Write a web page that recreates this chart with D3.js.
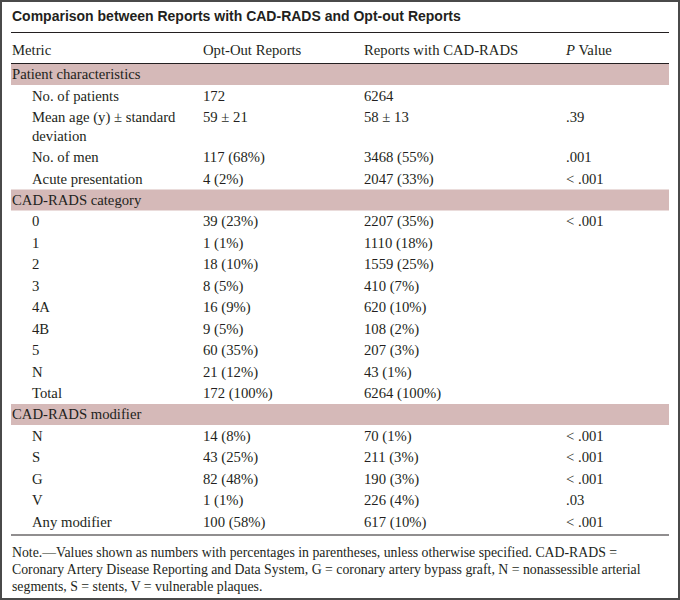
<!DOCTYPE html>
<html><head><meta charset="utf-8">
<script src="https://cdn.jsdelivr.net/npm/d3@7"></script>
<style>
html,body{margin:0;padding:0;background:#fff;}
svg{display:block;}
</style></head>
<body>
<script>
// ---- data ----
const title = "Comparison between Reports with CAD-RADS and Opt-out Reports";
const headers = ["Metric", "Opt-Out Reports", "Reports with CAD-RADS", "P Value"];
const sections = ["Patient characteristics", "CAD-RADS category", "CAD-RADS modifier"];
const metrics = [
  [["No. of patients"], ["Mean age (y) \u00b1 standard", "deviation"], ["No. of men"], ["Acute presentation"]],
  [["0"], ["1"], ["2"], ["3"], ["4A"], ["4B"], ["5"], ["N"], ["Total"]],
  [["N"], ["S"], ["G"], ["V"], ["Any modifier"]]
];
const optOut = [
  ["172", "59 \u00b1 21", "117 (68%)", "4 (2%)"],
  ["39 (23%)", "1 (1%)", "18 (10%)", "8 (5%)", "16 (9%)", "9 (5%)", "60 (35%)", "21 (12%)", "172 (100%)"],
  ["14 (8%)", "43 (25%)", "82 (48%)", "1 (1%)", "100 (58%)"]
];
const withCadrads = [
  ["6264", "58 \u00b1 13", "3468 (55%)", "2047 (33%)"],
  ["2207 (35%)", "1110 (18%)", "1559 (25%)", "410 (7%)", "620 (10%)", "108 (2%)", "207 (3%)", "43 (1%)", "6264 (100%)"],
  ["70 (1%)", "211 (3%)", "190 (3%)", "226 (4%)", "617 (10%)"]
];
const pValues = [
  ["", ".39", ".001", "< .001"],
  ["< .001", "", "", "", "", "", "", "", ""],
  ["< .001", "< .001", "< .001", ".03", "< .001"]
];
const noteLines = [
  "Note.\u2014Values shown as numbers with percentages in parentheses, unless otherwise specified. CAD-RADS =",
  "Coronary Artery Disease Reporting and Data System, G = coronary artery bypass graft, N = nonassessible arterial",
  "segments, S = stents, V = vulnerable plaques."
];

// ---- layout ----
const W = 680, H = 600;
const serif = "'Liberation Serif', 'Times New Roman', serif";
const sans = "'Liberation Sans', Arial, sans-serif";
const ink = "#231f20";
const shade = "#d5b9b8";
const fs = 14.7;

const svg = d3.select("body").append("svg").attr("width", W).attr("height", H);
svg.append("rect").attr("x", 1).attr("y", 1).attr("width", W - 2).attr("height", H - 2)
  .attr("fill", "#fff").attr("stroke", "#4a4a4a").attr("stroke-width", 2);

const x = d3.scaleOrdinal().domain([0, 1, 2, 3]).range([12, 203, 364, 566]);
const indent = 32;
const left = 11, right = 669;

svg.append("text").attr("x", 12).attr("y", 20.5).text(title)
  .attr("font-family", sans).attr("font-weight", "bold").attr("font-size", 14).attr("fill", ink);
svg.append("line").attr("x1", left).attr("x2", right).attr("y1", 32.5).attr("y2", 32.5).attr("stroke", ink).attr("stroke-width", 1.2);

// header
const hdr = svg.append("g").attr("font-family", serif).attr("font-size", fs).attr("fill", ink);
headers.forEach((h, i) => {
  const t = hdr.append("text").attr("x", x(i)).attr("y", 55);
  if (i === 3) {
    t.append("tspan").attr("font-style", "italic").text("P");
    t.append("tspan").text(" Value");
  } else t.text(h);
});
svg.append("line").attr("x1", left).attr("x2", right).attr("y1", 63.5).attr("y2", 63.5).attr("stroke", ink).attr("stroke-width", 1.2);

// build row list
const rowH = 21.5, secH = 21, lineGap = 19;
const rows = [];
sections.forEach((s, si) => {
  rows.push({type: "section", label: s, h: secH});
  metrics[si].forEach((m, mi) => {
    rows.push({type: "data", lines: m, vals: [optOut[si][mi], withCadrads[si][mi], pValues[si][mi]],
      h: rowH + (m.length - 1) * lineGap - (m.length > 1 ? 0.5 : 0)});
  });
});
let cum = 0;
rows.forEach(r => { r.y0 = cum; cum += r.h; });
const y = d3.scaleLinear().domain([0, cum]).range([64, 64 + cum]);

const body = svg.append("g").attr("font-family", serif).attr("font-size", fs).attr("fill", ink);
rows.forEach(r => {
  if (r.type === "section") {
    body.append("rect").attr("x", left).attr("width", right - left).attr("y", y(r.y0)).attr("height", r.h).attr("fill", shade);
    body.append("text").attr("x", 12).attr("y", y(r.y0) + 15).text(r.label);
  } else {
    const base = y(r.y0) + 15.5;
    r.lines.forEach((ln, li) => {
      body.append("text").attr("x", indent).attr("y", base + li * lineGap).text(ln);
    });
    r.vals.forEach((v, vi) => {
      body.append("text").attr("x", x(vi + 1)).attr("y", base).text(v);
    });
  }
});
const bottom = y(cum) + 2.5;
svg.append("line").attr("x1", left).attr("x2", right).attr("y1", bottom).attr("y2", bottom).attr("stroke", ink).attr("stroke-width", 1.2);

const note = svg.append("g").attr("font-family", serif).attr("font-size", 13.8).attr("fill", ink);
noteLines.forEach((ln, i) => {
  note.append("text").attr("x", 12).attr("y", bottom + 22 + i * 17.2).text(ln);
});
</script>
</body></html>
